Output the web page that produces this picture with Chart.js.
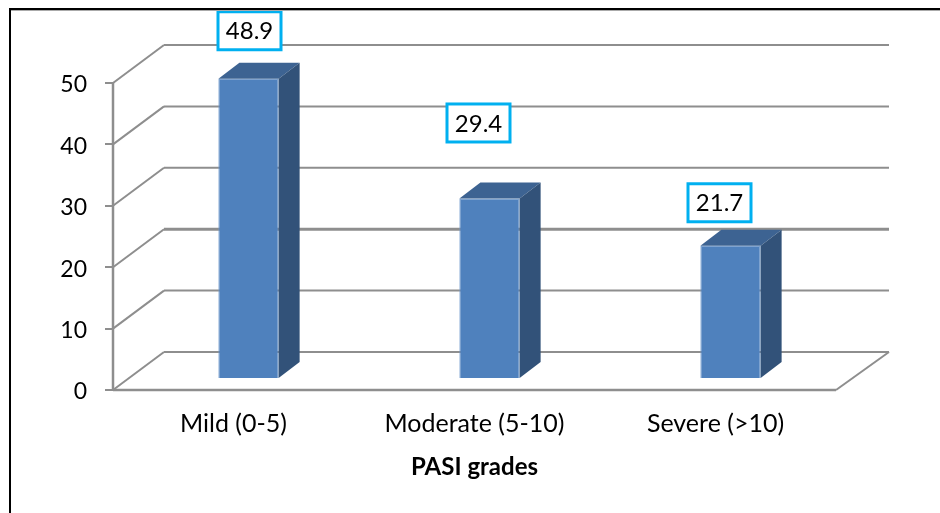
<!DOCTYPE html>
<html><head><meta charset="utf-8">
<style>html,body{margin:0;padding:0;background:#fff}canvas{display:block}</style>
<script src="https://cdn.jsdelivr.net/npm/chart.js@4"></script>
</head><body><div style="width:940px;height:513px;position:relative"><canvas id="c"></canvas></div>
<script>
const categories = ['Mild (0-5)', 'Moderate (5-10)', 'Severe (>10)'];
const grades = [48.9, 29.4, 21.7];
const yTicks = [0, 10, 20, 30, 40, 50];
const axisTitle = 'PASI grades';

const FONT = 'Lato, Carlito, "Open Sans", sans-serif';
const DEPTH = {x: 51, y: -38};
const BAR_FRONT = {x: 15, y: -11};
const BAR_DEPTH = {x: 21, y: -16};
const labelNudge = [{x: 1, y: -48}, {x: -11, y: -75.5}, {x: -11, y: -43}];
const GRID = '#8e8e8e';

const line = (ctx, x1, y1, x2, y2) => { ctx.beginPath(); ctx.moveTo(x1, y1); ctx.lineTo(x2, y2); ctx.stroke(); };
const poly = (ctx, pts, fill) => { ctx.fillStyle = fill; ctx.beginPath(); pts.forEach((p, i) => i ? ctx.lineTo(p[0], p[1]) : ctx.moveTo(p[0], p[1])); ctx.closePath(); ctx.fill(); };

const scene = {
  id: 'scene',
  beforeDatasetsDraw(chart) {
    const {ctx, chartArea: a, scales: {y}} = chart;
    ctx.save();
    ctx.strokeStyle = GRID;
    yTicks.forEach(v => {
      const py = y.getPixelForValue(v);
      ctx.lineWidth = 2;
      line(ctx, a.left, py, a.left + DEPTH.x, py + DEPTH.y);
      ctx.lineWidth = v === 20 ? 3 : 2;
      line(ctx, a.left + DEPTH.x, py + DEPTH.y, a.right + DEPTH.x + 2, py + DEPTH.y);
    });
    ctx.lineWidth = 2;
    line(ctx, a.right, a.bottom, a.right + DEPTH.x + 2, a.bottom + DEPTH.y);
    ctx.lineWidth = 2.5;
    line(ctx, a.left, a.top, a.left, a.bottom);
    line(ctx, a.left, a.bottom, a.right, a.bottom);
    ctx.restore();
    ctx.save();
    ctx.translate(BAR_FRONT.x, BAR_FRONT.y);
  },
  afterDatasetsDraw(chart) {
    const {ctx} = chart;
    ctx.restore();
    ctx.save();
    chart.getDatasetMeta(0).data.forEach(b => {
      const w = b.width / 2;
      const L = b.x - w + BAR_FRONT.x, R = b.x + w + BAR_FRONT.x;
      const T = b.y + BAR_FRONT.y, B = b.base + BAR_FRONT.y;
      const dx = BAR_DEPTH.x, dy = BAR_DEPTH.y;
      poly(ctx, [[L, T], [R, T], [R + dx, T + dy], [L + dx, T + dy]], '#3d6392');
      poly(ctx, [[R, T], [R + dx, T + dy], [R + dx, B + dy], [R, B]], '#325279');
    });
    ctx.restore();
  },
  afterDraw(chart) {
    const {ctx, width, height} = chart;
    ctx.save();
    chart.getDatasetMeta(0).data.forEach((b, i) => {
      const cx = b.x + BAR_FRONT.x + labelNudge[i].x;
      const cy = b.y + BAR_FRONT.y + labelNudge[i].y;
      ctx.fillStyle = '#fff';
      ctx.fillRect(cx - 31.5, cy - 19, 63, 38);
      ctx.strokeStyle = '#00b0f0'; ctx.lineWidth = 3;
      ctx.strokeRect(cx - 31.5, cy - 19, 63, 38);
      ctx.fillStyle = '#000'; ctx.font = '24px ' + FONT;
      ctx.textAlign = 'center'; ctx.textBaseline = 'middle';
      ctx.fillText(grades[i].toFixed(1), cx, cy + 1);
    });
    ctx.fillStyle = '#aaa';
    ctx.fillRect(9, 10, width - 9, 1);
    ctx.fillStyle = '#000';
    ctx.fillRect(9, 8, width - 9, 2);
    ctx.fillRect(9, 8, 2, height - 8);
    ctx.restore();
  }
};

new Chart(document.getElementById('c'), {
  type: 'bar',
  data: {labels: categories, datasets: [{
    data: grades,
    backgroundColor: '#4f81bd',
    borderColor: '#6b96cc',
    borderWidth: 1,
    barPercentage: 0.25,
    categoryPercentage: 1
  }]},
  options: {
    responsive: true, maintainAspectRatio: false, animation: false,
    layout: {padding: {left: 0, right: 104, top: 83, bottom: 27}},
    plugins: {legend: {display: false}, tooltip: {enabled: false}},
    scales: {
      x: {
        grid: {display: false}, border: {display: false},
        ticks: {color: '#000', font: {family: FONT, size: 25}, padding: 11, maxRotation: 0},
        title: {display: true, text: axisTitle, color: '#000', font: {family: FONT, size: 24, weight: 'bold'}, padding: {top: 6}},
        afterFit(s) { s.height = 96; }
      },
      y: {
        min: 0, max: 50,
        afterBuildTicks(s) { s.ticks = yTicks.map(value => ({value})); },
        grid: {display: true, drawOnChartArea: false, drawTicks: true, tickLength: 8, color: GRID, lineWidth: 2},
        border: {display: false},
        ticks: {color: '#000', font: {family: FONT, size: 23}, padding: 18, labelOffset: 2},
        afterFit(s) { s.width = 113; }
      }
    }
  },
  plugins: [scene]
});
</script></body></html>
